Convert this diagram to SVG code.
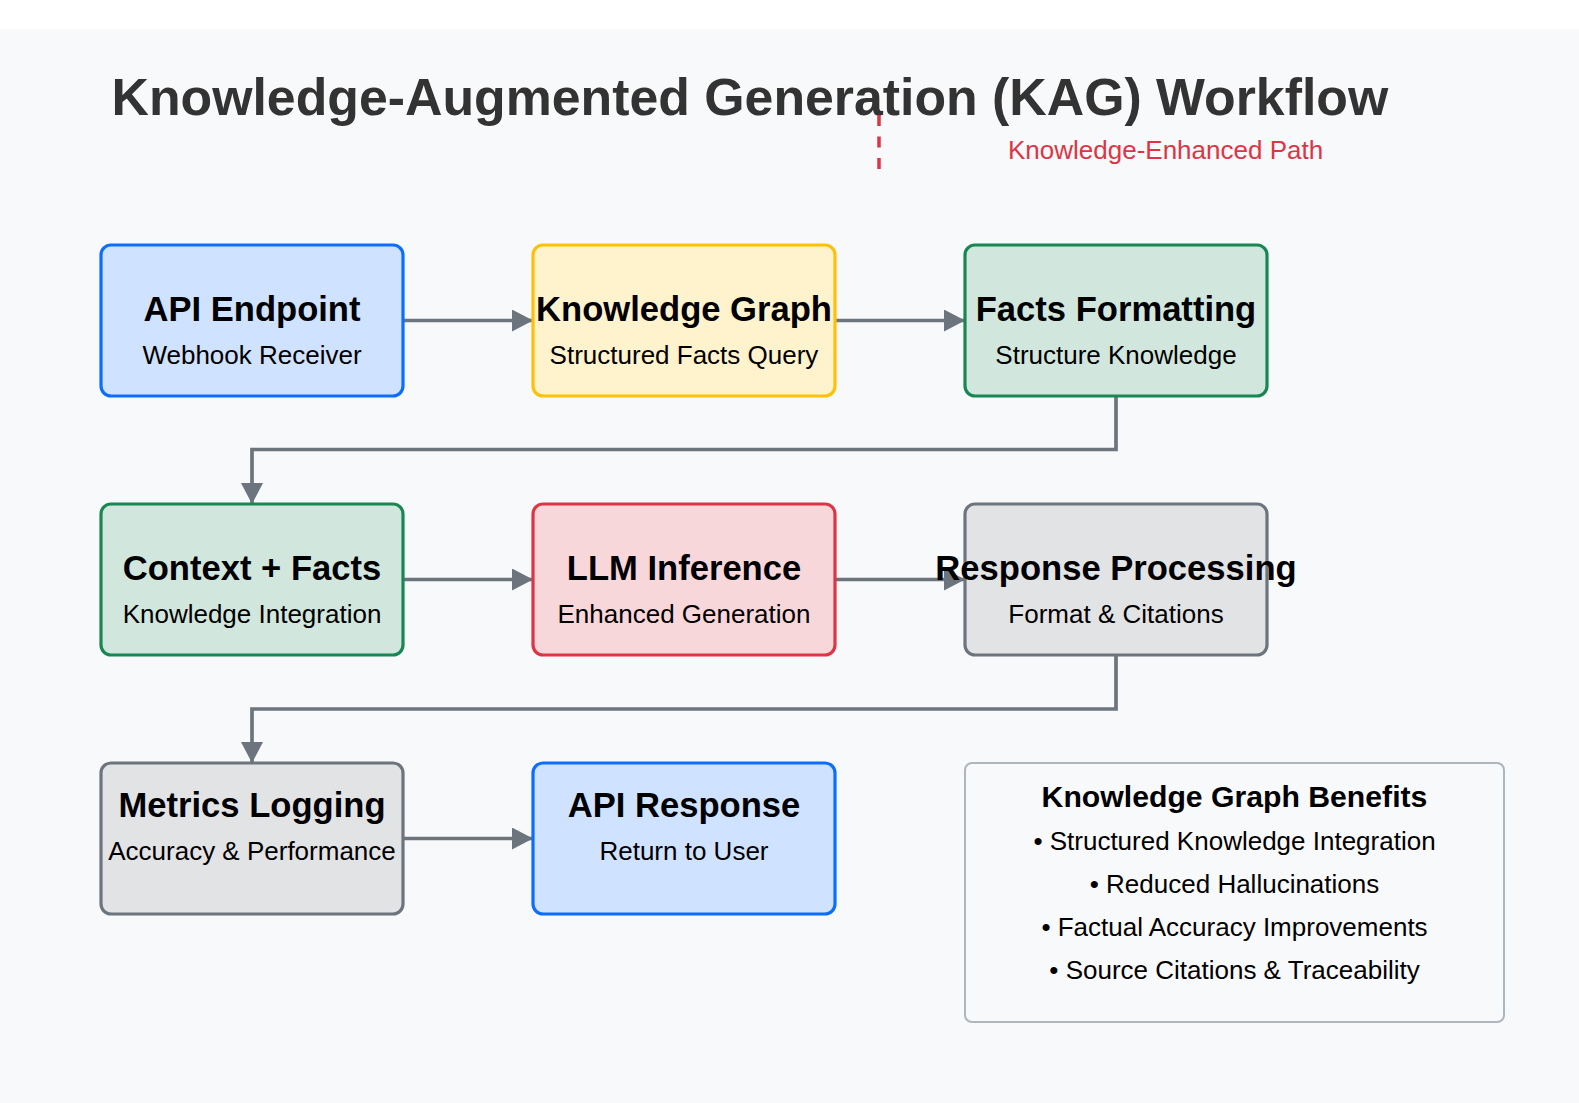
<svg xmlns="http://www.w3.org/2000/svg" width="1579" height="1103" viewBox="0 0 1579 1103">
<defs>
<marker id="arrow" markerUnits="userSpaceOnUse" markerWidth="22" markerHeight="22" refX="21" refY="11" orient="auto">
<path d="M0,0 L21,11 L0,22 Z" fill="#6c757d"/>
</marker>
<style>
.box{stroke-width:3.2}
.t{font-family:"Liberation Sans",Arial,sans-serif;font-weight:bold;font-size:34.6px;fill:#000;text-anchor:middle}
.s{font-family:"Liberation Sans",Arial,sans-serif;font-size:26px;fill:#000;text-anchor:middle}
.blue{fill:#cfe2ff;stroke:#0d6efd}
.yellow{fill:#fff3cd;stroke:#ffc107}
.green{fill:#d1e7dd;stroke:#198754}
.red{fill:#f8d7da;stroke:#dc3545}
.gray{fill:#e2e3e5;stroke:#6c757d}
.conn{fill:none;stroke:#6c757d;stroke-width:3.7;marker-end:url(#arrow)}
</style>
</defs>
<rect x="0" y="0" width="1579" height="1103" fill="#ffffff"/>
<rect x="0" y="29" width="1579" height="1074" fill="#f8f9fa"/>
<text x="111.5" y="115" font-family="Liberation Sans, Arial, sans-serif" font-weight="bold" font-size="51.8" fill="#333333">Knowledge-Augmented Generation (KAG) Workflow</text>
<g id="legend">
<line x1="879" y1="115" x2="879" y2="169" stroke="#dc3545" stroke-width="3.5" stroke-dasharray="11,10.5"/>
<text x="1008" y="159" font-family="Liberation Sans, Arial, sans-serif" font-size="26" fill="#dc3545">Knowledge-Enhanced Path</text>
</g>
<g id="connectors">
<path class="conn" d="M403,320.5 L533,320.5"/>
<path class="conn" d="M835,320.5 L965,320.5"/>
<path class="conn" d="M1116,396 L1116,449.5 L252,449.5 L252,504"/>
<path class="conn" d="M403,579.5 L533,579.5"/>
<path class="conn" d="M835,579.5 L965,579.5"/>
<path class="conn" d="M1116,655 L1116,709 L252,709 L252,763"/>
<path class="conn" d="M403,838.5 L533,838.5"/>
</g>
<g id="api-endpoint">
<rect class="box blue" x="101" y="245" width="302" height="151" rx="10"/>
<text class="t" x="252" y="321">API Endpoint</text>
<text class="s" x="252" y="364">Webhook Receiver</text>
</g>
<g id="knowledge-graph">
<rect class="box yellow" x="533" y="245" width="302" height="151" rx="10"/>
<text class="t" x="684" y="321">Knowledge Graph</text>
<text class="s" x="684" y="364">Structured Facts Query</text>
</g>
<g id="facts-formatting">
<rect class="box green" x="965" y="245" width="302" height="151" rx="10"/>
<text class="t" x="1116" y="321">Facts Formatting</text>
<text class="s" x="1116" y="364">Structure Knowledge</text>
</g>
<g id="context-facts">
<rect class="box green" x="101" y="504" width="302" height="151" rx="10"/>
<text class="t" x="252" y="580">Context + Facts</text>
<text class="s" x="252" y="623">Knowledge Integration</text>
</g>
<g id="llm-inference">
<rect class="box red" x="533" y="504" width="302" height="151" rx="10"/>
<text class="t" x="684" y="580">LLM Inference</text>
<text class="s" x="684" y="623">Enhanced Generation</text>
</g>
<g id="response-processing">
<rect class="box gray" x="965" y="504" width="302" height="151" rx="10"/>
<text class="t" x="1116" y="580">Response Processing</text>
<text class="s" x="1116" y="623">Format &amp; Citations</text>
</g>
<g id="metrics-logging">
<rect class="box gray" x="101" y="763" width="302" height="151" rx="10"/>
<text class="t" x="252" y="817">Metrics Logging</text>
<text class="s" x="252" y="860">Accuracy &amp; Performance</text>
</g>
<g id="api-response">
<rect class="box blue" x="533" y="763" width="302" height="151" rx="10"/>
<text class="t" x="684" y="817">API Response</text>
<text class="s" x="684" y="860">Return to User</text>
</g>
<g id="benefits">
<rect x="965" y="763" width="539" height="259" rx="7" fill="#f8f9fa" stroke="#adb5bd" stroke-width="2"/>
<text x="1234.5" y="807" font-family="Liberation Sans, Arial, sans-serif" font-weight="bold" font-size="30.2" fill="#000" text-anchor="middle">Knowledge Graph Benefits</text>
<text class="s" x="1234.5" y="850">• Structured Knowledge Integration</text>
<text class="s" x="1234.5" y="893">• Reduced Hallucinations</text>
<text class="s" x="1234.5" y="936">• Factual Accuracy Improvements</text>
<text class="s" x="1234.5" y="979">• Source Citations &amp; Traceability</text>
</g>
</svg>
